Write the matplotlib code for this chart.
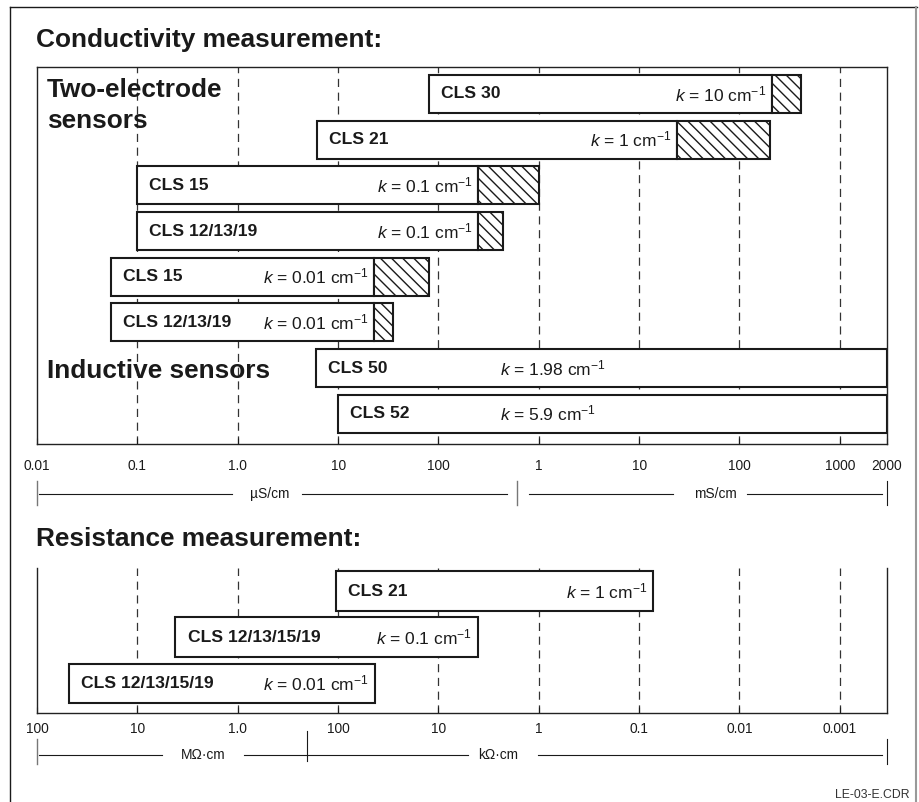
import matplotlib
matplotlib.use('Agg')
import matplotlib.pyplot as plt
from matplotlib.lines import Line2D
from matplotlib.ticker import NullLocator

plt.rcParams['font.family'] = ['Liberation Sans', 'DejaVu Sans']
plt.rcParams['mathtext.fontset'] = 'custom'
plt.rcParams['mathtext.rm'] = 'Liberation Sans'
plt.rcParams['mathtext.it'] = 'Liberation Sans:italic'
plt.rcParams['mathtext.bf'] = 'Liberation Sans:bold'

# --- conductivity ranges (uS/cm) ---
cond_names = ["CLS 30", "CLS 21", "CLS 15", "CLS 12/13/19", "CLS 15",
              "CLS 12/13/19", "CLS 50", "CLS 52"]
cond_k = ["10", "1", "0.1", "0.1", "0.01", "0.01", "1.98", "5.9"]
cond_lo = [81, 6.2, 0.1, 0.1, 0.055, 0.055, 6.0, 10]
cond_mid = [2.1e5, 2.4e4, 250, 250, 23, 23, None, None]   # end of the plain part
x_right = 2.95e6                                           # frame edge, marked "2000" mS/cm
cond_hi = [4.1e5, 2.0e5, 1000, 440, 80, 35, x_right, x_right]
cond_ticks = [0.01, 0.1, 1, 10, 100, 1e3, 1e4, 1e5, 1e6, x_right]
cond_ticklabels = ["0.01", "0.1", "1.0", "10", "100", "1", "10", "100", "1000", "2000"]

# --- resistance ranges (Ohm*cm) ---
res_names = ["CLS 21", "CLS 12/13/15/19", "CLS 12/13/15/19"]
res_k = ["1", "0.1", "0.01"]
res_hi = [1.05e5, 4.2e6, 4.8e7]
res_lo = [72, 4.0e3, 4.3e4]
res_ticks = [1e8, 1e7, 1e6, 1e5, 1e4, 1e3, 100, 10, 1]
res_ticklabels = ["100", "10", "1.0", "100", "10", "1", "0.1", "0.01", "0.001"]

W, H = 919, 802
fig = plt.figure(figsize=(W / 100, H / 100), dpi=100)
ink = '#1a1a1a'


def fx(px):
    return px / W


def fy(py):
    return 1 - py / H


def hseg(x0, x1, y, color=ink, lw=0.8):
    fig.add_artist(Line2D([fx(x0), fx(x1)], [fy(y), fy(y)], transform=fig.transFigure,
                          color=color, lw=lw))


def vseg(x, y0, y1, color=ink, lw=0.8):
    fig.add_artist(Line2D([fx(x), fx(x)], [fy(y0), fy(y1)], transform=fig.transFigure,
                          color=color, lw=lw))


def kstr(k):
    return "$k$ = " + k + r" cm$^{-1}$"


bar_kw = dict(facecolor='white', edgecolor=ink, lw=1.5, zorder=3)
name_kw = dict(fontsize=12.6, fontweight='bold', color=ink, va='center', zorder=5)
k_kw = dict(fontsize=12.5, color=ink, va='center', zorder=5)

# ---------------- top panel ----------------
ax1 = fig.add_axes([fx(37), fy(444), fx(887) - fx(37), fy(67) - fy(444)])
ax1.set_xscale('log')
ax1.set_xlim(0.01, x_right)
ax1.set_ylim(7.66, -0.59)
for t in cond_ticks[1:-1]:
    ax1.axvline(t, color='#333333', lw=0.9, dashes=(6.5, 4.5), zorder=1)

for i in range(len(cond_names)):
    lo, mid, hi = cond_lo[i], cond_mid[i], cond_hi[i]
    if mid is not None:
        ax1.barh(i, mid - lo, left=lo, height=0.83, **bar_kw)
        ax1.barh(i, hi - mid, left=mid, height=0.83, hatch='\\\\\\', **bar_kw)
        ax1.annotate(kstr(cond_k[i]), xy=(mid, i), xytext=(-4, 0), textcoords='offset points',
                     ha='right', **k_kw)
    else:
        ax1.barh(i, hi - lo, left=lo, height=0.83, **bar_kw)
        ax1.annotate(kstr(cond_k[i]), xy=(410, i), ha='left', **k_kw)
    ax1.annotate(cond_names[i], xy=(lo, i), xytext=(8.5, 0), textcoords='offset points',
                 ha='left', **name_kw)

ax1.set_xticks(cond_ticks)
ax1.set_xticklabels(cond_ticklabels)
ax1.xaxis.set_minor_locator(NullLocator())
ax1.set_yticks([])
ax1.tick_params(axis='x', direction='in', length=4, width=0.8, pad=11, labelsize=9.9,
                colors=ink)
for s in ax1.spines.values():
    s.set_linewidth(1.0)
    s.set_color('#222222')

# ---------------- bottom panel ----------------
ax2 = fig.add_axes([fx(37), fy(713), fx(887) - fx(37), fy(568) - fy(713)])
ax2.set_xscale('log')
ax2.set_xlim(1e8, 10 ** -0.47)
ax2.set_ylim(2.65, -0.5)
for t in res_ticks[1:]:
    ax2.axvline(t, color='#333333', lw=0.9, dashes=(6.5, 4.5), zorder=1)

for i in range(len(res_names)):
    ax2.barh(i, res_hi[i] - res_lo[i], left=res_lo[i], height=0.85, **bar_kw)
    ax2.annotate(res_names[i], xy=(res_hi[i], i), xytext=(9, 0), textcoords='offset points',
                 ha='left', **name_kw)
    ax2.annotate(kstr(res_k[i]), xy=(res_lo[i], i), xytext=(-4.5, 0),
                 textcoords='offset points', ha='right', **k_kw)

ax2.set_xticks(res_ticks)
ax2.set_xticklabels(res_ticklabels)
ax2.xaxis.set_minor_locator(NullLocator())
ax2.set_yticks([])
ax2.tick_params(axis='x', direction='in', length=4, width=0.8, pad=6.5, labelsize=9.9,
                colors=ink)
ax2.spines['top'].set_visible(False)
for s in ax2.spines.values():
    s.set_linewidth(1.0)
    s.set_color('#222222')

# ---------------- unit scales ----------------
unit_kw = dict(fontsize=9.9, color=ink, ha='center', va='center')
vseg(37, 481, 505, '#777777', 1.0)
hseg(39, 232, 494)
fig.text(fx(270), fy(494), "µS/cm", **unit_kw)
hseg(302, 507, 494)
vseg(517, 481, 505, '#777777', 1.0)
hseg(529, 673, 494)
fig.text(fx(715), fy(494), "mS/cm", **unit_kw)
hseg(747, 882, 494)
vseg(887, 481, 505)

vseg(37, 739, 764, '#777777', 1.0)
hseg(39, 162, 755)
fig.text(fx(203), fy(755), "MΩ·cm", **unit_kw)
hseg(244, 468, 755)
vseg(307, 731, 761)
fig.text(fx(498), fy(755), "kΩ·cm", **unit_kw)
hseg(538, 882, 755)
vseg(887, 739, 764)

# ---------------- headings ----------------
head_kw = dict(fontsize=18.9, fontweight='bold', color=ink, va='baseline', ha='left')
fig.text(fx(36), fy(47), "Conductivity measurement:", **head_kw)
fig.text(fx(36), fy(546), "Resistance measurement:", **head_kw)
fig.text(fx(47), fy(97), "Two-electrode", zorder=6, **head_kw)
fig.text(fx(47), fy(128), "sensors", zorder=6, **head_kw)
fig.text(fx(47), fy(378), "Inductive sensors", zorder=6, **head_kw)
fig.text(fx(910), fy(789), "LE-03-E.CDR", fontsize=8.8, color='#333333', ha='right', va='top')

# outer frame
hseg(10, 917, 7, ink, 1.0)
vseg(10, 7, 802, ink, 1.0)
vseg(916, 7, 802, '#999999', 1.5)

fig.savefig("out.png", dpi=100)
